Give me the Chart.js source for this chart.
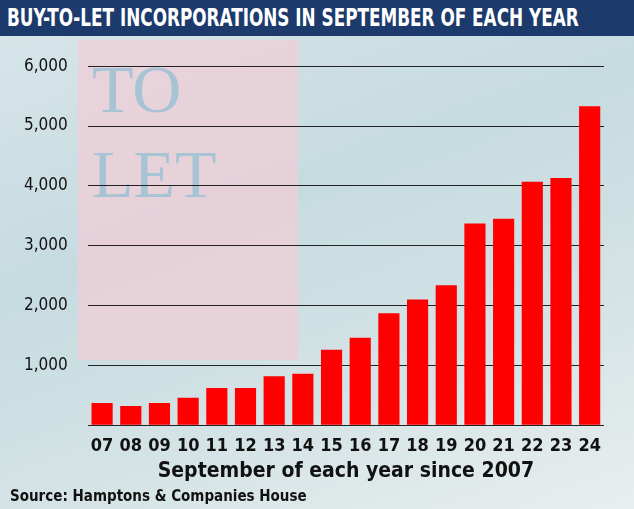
<!DOCTYPE html>
<html>
<head>
<meta charset="utf-8">
<script src="https://cdn.jsdelivr.net/npm/chart.js@4"></script>
<style>
  body { margin: 0; width: 634px; height: 509px; overflow: hidden; font-family: "DejaVu Sans Condensed", "Liberation Sans", sans-serif; }
  #wrap { position: relative; width: 634px; height: 509px;
    background: linear-gradient(160deg, #d9e6ea 0%, #c6dbe0 40%, #d4e3e6 70%, #e9eeee 100%); }
  #sign { position: absolute; left: 78px; top: 40px; width: 220px; height: 320px; background: rgba(240,205,215,0.75); }
  #sign span { position: absolute; left: 14px; font: 68px "Liberation Serif", serif; color: rgba(140,190,210,0.7); }
  #title { position: absolute; left: 0; top: 0; width: 634px; height: 36px; background: #1d3a6c; color: #fff; overflow: hidden; }
  #title div { white-space: nowrap; font-weight: bold; font-size: 24px; line-height: 36px;
    transform: scaleX(0.78); transform-origin: left center; padding-left: 9px; }
  #chartBox { position: absolute; left: 0; top: 36px; width: 634px; height: 452px; }
  #source { position: absolute; left: 10px; top: 487px; font-weight: bold; font-size: 15px; color: #111; }
</style>
</head>
<body>
<div id="wrap">
  <div id="sign"><span style="top:10px">TO</span><span style="top:95px">LET</span></div>
  <div id="title"><div>BUY-TO-LET INCORPORATIONS IN SEPTEMBER OF EACH YEAR</div></div>
  <div id="chartBox"><canvas id="chart" width="634" height="452"></canvas></div>
  <div id="source">Source: Hamptons &amp; Companies House</div>
</div>
<script>
// Year labels (September of each year)
const years = ['07', '08', '09', '10', '11', '12', '13', '14', '15', '16', '17', '18', '19', '20', '21', '22', '23', '24'];
// Buy-to-let incorporations
const incorporations = [370, 320, 370, 460, 620, 620, 820, 860, 1260, 1460, 1870, 2100, 2340, 3370, 3450, 4070, 4130, 5330];
const yTicks = [0, 1000, 2000, 3000, 4000, 5000, 6000];

const font = '"DejaVu Sans Condensed", "Liberation Sans", sans-serif';

new Chart(document.getElementById('chart'), {
  type: 'bar',
  data: {
    labels: years,
    datasets: [{ data: incorporations, backgroundColor: '#ff0000', categoryPercentage: 0.9, barPercentage: 0.82 }]
  },
  options: {
    responsive: false,
    animation: false,
    layout: { padding: { left: 4, right: 30, top: 4 } },
    plugins: { legend: { display: false }, tooltip: { enabled: false } },
    scales: {
      x: {
        grid: { display: false },
        border: { display: false },
        ticks: { color: '#111', font: { family: font, size: 18, weight: 'bold' }, padding: 2, maxRotation: 0, autoSkip: false },
        title: { display: true, text: 'September of each year since 2007', color: '#111',
          font: { family: font, size: 21, weight: 'bold' }, padding: { top: 0 } }
      },
      y: {
        min: 0, max: 6000,
        afterBuildTicks: axis => { axis.ticks = yTicks.map(v => ({ value: v })); },
        grid: { color: '#222', lineWidth: 1, drawTicks: false },
        border: { display: false },
        ticks: { color: '#111', padding: 20, font: { family: font, size: 17 },
          callback: v => v === 0 ? '' : v.toLocaleString('en-GB') }
      }
    }
  }
});
</script>
</body>
</html>
